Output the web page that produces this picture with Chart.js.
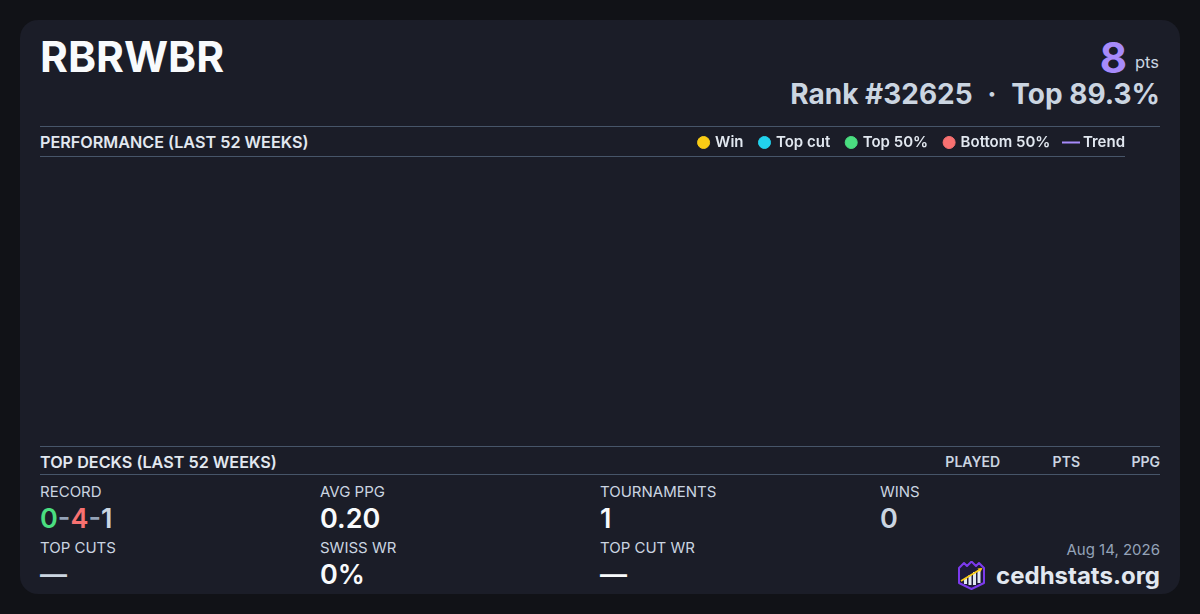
<!DOCTYPE html>
<html>
<head>
<meta charset="utf-8">
<script src="https://cdn.jsdelivr.net/npm/chart.js@4.4.1/dist/chart.umd.min.js"></script>
<style>
  html,body{margin:0;padding:0;width:1200px;height:614px;background:#111217;overflow:hidden;font-family:Inter,"Noto Sans",sans-serif;}
  .card{position:absolute;left:20px;top:20px;width:1160px;height:574px;background:#1b1d28;border-radius:18px;}
  .abs{position:absolute;white-space:nowrap;}
  .hl{position:absolute;height:1px;background:#475569;}
  .lbl{font-size:15px;line-height:15px;color:#cbd5e1;font-weight:400;}
  .val{font-size:27px;line-height:27px;font-weight:600;color:#f8fafc;}
  #chartWrap{position:absolute;left:40px;top:118px;width:1102px;height:327px;}
</style>
</head>
<body>
<div class="card"></div>

<div class="abs" style="left:40px;top:36px;font-size:42.5px;line-height:42px;font-weight:700;color:#f8fafc;">RBRWBR</div>
<div class="abs" style="right:73px;top:37px;font-size:42px;line-height:42px;font-weight:700;color:#a78bfa;">8</div>
<div class="abs" style="right:41px;top:54px;font-size:16.5px;line-height:16px;color:#cbd5e1;">pts</div>
<div class="abs" style="right:40px;top:80px;font-size:28px;line-height:28px;font-weight:700;color:#cbd5e1;">Rank #32625<span style="margin:0 8px 0 8px;">&nbsp;·&nbsp;</span>Top 89.3%</div>

<div class="hl" style="left:40px;top:126px;width:1120px;"></div>
<div class="abs" style="left:40px;top:134px;font-size:16.2px;line-height:16px;font-weight:600;color:#e2e8f0;">PERFORMANCE (LAST 52 WEEKS)</div>
<div class="hl" style="left:40px;top:156px;width:1085px;"></div>

<div id="chartWrap"><canvas id="c"></canvas></div>

<div class="hl" style="left:40px;top:446px;width:1120px;"></div>
<div class="abs" style="left:40px;top:454px;font-size:16.2px;line-height:16px;font-weight:600;color:#e2e8f0;">TOP DECKS (LAST 52 WEEKS)</div>
<div class="abs" style="right:200px;top:455px;font-size:14px;line-height:14px;font-weight:600;color:#cbd5e1;">PLAYED</div>
<div class="abs" style="right:120px;top:455px;font-size:14px;line-height:14px;font-weight:600;color:#cbd5e1;">PTS</div>
<div class="abs" style="right:40px;top:455px;font-size:14px;line-height:14px;font-weight:600;color:#cbd5e1;">PPG</div>
<div class="hl" style="left:40px;top:474px;width:1120px;"></div>

<div class="abs lbl" style="left:40px;top:484px;">RECORD</div>
<div class="abs val" style="left:40px;top:505px;"><span style="color:#4ade80">0</span><span style="color:#94a3b8">-</span><span style="color:#f87171">4</span><span style="color:#94a3b8">-</span><span style="color:#cbd5e1">1</span></div>
<div class="abs lbl" style="left:320px;top:484px;">AVG PPG</div>
<div class="abs val" style="left:320px;top:505px;">0.20</div>
<div class="abs lbl" style="left:600px;top:484px;">TOURNAMENTS</div>
<div class="abs val" style="left:600px;top:505px;">1</div>
<div class="abs lbl" style="left:880px;top:484px;">WINS</div>
<div class="abs val" style="left:880px;top:505px;color:#cbd5e1;">0</div>

<div class="abs lbl" style="left:40px;top:540px;">TOP CUTS</div>
<div class="abs val" style="left:40px;top:561px;color:#cbd5e1;">—</div>
<div class="abs lbl" style="left:320px;top:540px;">SWISS WR</div>
<div class="abs val" style="left:320px;top:561px;">0%</div>
<div class="abs lbl" style="left:600px;top:540px;">TOP CUT WR</div>
<div class="abs val" style="left:600px;top:561px;">—</div>

<div class="abs" style="right:40px;top:542px;font-size:15px;line-height:15px;color:#94a3b8;">Aug 14, 2026</div>
<div class="abs" style="right:40px;top:561px;display:flex;align-items:center;gap:9px;">
  <svg width="31" height="29" viewBox="0 0 31 29">
    <path d="M3 7 L8 2 L11 5 L15.5 0.5 L20 5 L23 2 L28 7 L28 22 L15.5 28 L3 22 Z" fill="#1e1b3a" stroke="#7c3aed" stroke-width="2" stroke-linejoin="round"/>
    <rect x="8" y="17" width="3" height="6" fill="#e2e8f0"/>
    <rect x="12.5" y="14" width="3" height="10" fill="#e2e8f0"/>
    <rect x="17" y="11" width="3" height="13" fill="#e2e8f0"/>
    <rect x="21.5" y="9" width="3" height="13" fill="#e2e8f0"/>
    <path d="M5 20 L25 8" stroke="#facc15" stroke-width="1.8"/>
    <path d="M26.5 7 L21.5 7.5 L24.5 11 Z" fill="#facc15"/>
  </svg>
  <span style="font-size:24px;line-height:24px;font-weight:700;color:#e2e8f0;">cedhstats.org</span>
</div>

<script>
// ---- data (no tournaments plotted in the last 52 weeks) ----
const weeks = [];
const winPoints = [];
const topCutPoints = [];
const top50Points = [];
const bottom50Points = [];
const trendValues = [];
const seriesNames = ["Win", "Top cut", "Top 50%", "Bottom 50%", "Trend"];
const seriesColors = ["#facc15", "#22d3ee", "#4ade80", "#f87171", "#a78bfa"];

// trend legend marker: short line
const trendMark = document.createElement('canvas');
trendMark.width = 18; trendMark.height = 4;
(function(){const g=trendMark.getContext('2d');g.strokeStyle=seriesColors[4];g.lineWidth=2;g.beginPath();g.moveTo(0,2);g.lineTo(18,2);g.stroke();})();

const pointSets = [winPoints, topCutPoints, top50Points, bottom50Points];
const datasets = pointSets.map((pts, i) => ({
  type: 'scatter',
  label: seriesNames[i],
  data: pts,
  backgroundColor: seriesColors[i],
  borderColor: seriesColors[i],
  pointStyle: 'circle',
  pointRadius: 5
}));
datasets.push({
  type: 'line',
  label: seriesNames[4],
  data: trendValues,
  borderColor: seriesColors[4],
  backgroundColor: seriesColors[4],
  borderWidth: 2,
  pointRadius: 0,
  pointStyle: trendMark
});

new Chart(document.getElementById('c'), {
  data: { labels: weeks, datasets },
  options: {
    responsive: true,
    maintainAspectRatio: false,
    animation: false,
    layout: { padding: 0 },
    scales: {
      x: { type: 'linear', display: false },
      y: { display: false }
    },
    plugins: {
      tooltip: { enabled: false },
      legend: {
        position: 'top',
        align: 'end',
        labels: {
          usePointStyle: true,
          boxWidth: 8,
          boxHeight: 8.5,
          padding: 17,
          color: '#e2e8f0',
          font: { family: 'Inter', size: 15, weight: '600' }
        }
      }
    }
  }
});
</script>
</body>
</html>
